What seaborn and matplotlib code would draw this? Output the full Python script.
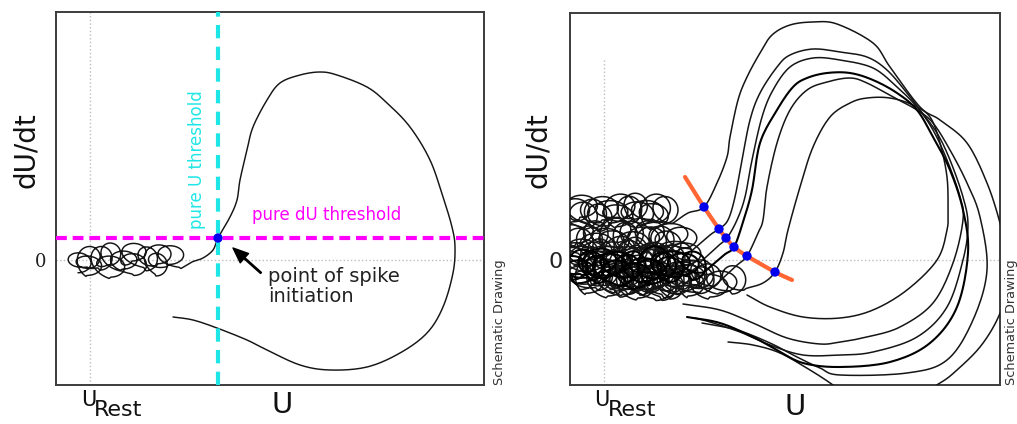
import numpy as np
import pandas as pd
import matplotlib
matplotlib.use("Agg")
import matplotlib.pyplot as plt
import seaborn as sns

# ---------------- data (schematic units: U, dU/dt) ----------------
# Left panel
L_REST = 34
L_U_THRESH = 162
L_DU_THRESH = 22
L_loop_u = [22, 33, 31, 44, 55, 53, 66, 78, 76, 90, 102, 100, 113, 125]
L_loop_v = [-3, 3, -6, 2, -7, 6, 0, -5, 8, 1, 6, -5, 5, 2]
L_path_u = [136, 147, 157, 162, 174, 181, 184, 191, 197, 211, 224, 244, 264, 281, 311,
            331, 354, 374, 387, 396, 399, 397, 387, 371, 344, 311, 274, 244, 211, 191,
            161, 137, 117]
L_path_v = [-2, 2, 10, 22, 43, 60, 80, 110, 133, 160, 177, 185, 188, 185, 173,
            157, 133, 100, 63, 33, 13, -13, -47, -73, -93, -107, -110, -105, -90, -80,
            -68, -60, -57]

# Right panel
R_REST = 34
R1_loop_u = [4, 14, 10, 22, 32, 28, 40, 50, 46, 58, 68, 64, 76, 86, 82, 94, 104]
R1_loop_v = [50, 44, 54, 46, 52, 42, 48, 54, 44, 50, 46, 54, 48, 52, 44, 50, 50]
R1_u = [118, 134, 147, 157, 160, 168, 177, 190, 202, 220, 243, 267, 303, 320, 350, 370,
        397, 417, 430, 438, 435, 427, 410, 387, 370, 340, 300, 275, 263, 240, 210, 183, 158]
R1_v = [47, 53, 77, 103, 123, 160, 183, 207, 225, 235, 238, 236, 217, 193, 153, 140,
        117, 77, 37, 0, -35, -60, -87, -110, -123, -138, -142, -135, -125, -110, -93, -85, -82]

R2_loop_u = [0, 10, 6, 18, 28, 24, 36, 46, 42, 54, 64, 60, 72, 82, 78, 90, 100, 96, 110, 122]
R2_loop_v = [24, 18, 28, 20, 14, 26, 20, 30, 18, 24, 16, 26, 22, 18, 28, 20, 26, 16, 22, 22]
R2_u = [140, 149, 158, 165, 172, 180, 190, 207, 220, 243, 270, 297, 317, 337, 350, 367,
        380, 393, 398, 393, 377, 347, 303, 270, 233, 200, 170, 140, 125]
R2_v = [25, 31, 40, 63, 100, 140, 167, 193, 205, 211, 208, 203, 190, 167, 150, 127,
        100, 63, 35, 0, -47, -77, -92, -95, -95, -85, -72, -62, -58]

R3_loop_u = [4, 14, 10, 22, 32, 28, 40, 50, 46, 58, 68, 64, 76, 86, 82, 94, 104, 100, 114, 130]
R3_loop_v = [6, 0, 10, 4, -4, 8, 2, 12, -2, 6, 0, 10, 4, -4, 6, 0, 8, 2, 6, 10]
R3_u = [148, 157, 167, 175, 182, 192, 203, 220, 243, 270, 303, 327, 347, 363, 377, 390,
        393, 383, 363, 330, 297, 270, 250, 217, 183, 150, 113]
R3_v = [14, 22, 40, 63, 100, 143, 170, 193, 202, 200, 192, 173, 153, 130, 100, 63,
        40, -3, -43, -67, -77, -82, -84, -78, -63, -50, -44]

R4_loop_u = [2, 12, 8, 20, 30, 26, 38, 48, 44, 56, 66, 62, 74, 84, 80, 92, 102, 98, 112,
             122, 136]
R4_loop_v = [-8, -2, -12, -6, 0, -10, -4, -14, -2, -8, -16, -4, -10, 0, -12, -6, -2, -10,
             -4, -6, 2]
R4_u = [154, 164, 173, 182, 190, 207, 223, 237, 257, 280, 303, 327, 347, 363, 380, 393,
        398, 387, 360, 320, 270, 233, 207, 183, 150, 117]
R4_v = [5, 13, 38, 70, 117, 150, 173, 182, 187, 187, 180, 167, 150, 123, 90, 50,
        7, -47, -83, -102, -107, -103, -90, -77, -63, -57]

R5_loop_u = [10, 20, 16, 28, 38, 34, 46, 56, 52, 64, 74, 70, 82, 92, 88, 100, 110, 106,
             118, 130, 146]
R5_loop_v = [-18, -12, -22, -16, -24, -12, -20, -14, -24, -18, -12, -22, -16, -26, -14,
             -20, -12, -22, -16, -14, -12]
R5_u = [166, 177, 188, 193, 197, 207, 220, 237, 257, 280, 297, 323, 347, 363, 380, 397,
        410, 417, 403, 377, 337, 270, 250, 227, 200, 167, 132]
R5_v = [-6, 4, 27, 40, 73, 117, 150, 170, 178, 182, 177, 163, 150, 137, 110, 77,
        43, -10, -60, -100, -113, -115, -108, -97, -83, -70, -63]

R6_loop_u = [40, 50, 46, 58, 68, 64, 76, 86, 82, 94, 104, 100, 112, 122, 118, 130, 140,
             136, 150, 162, 176]
R6_loop_v = [-18, -24, -14, -20, -26, -16, -22, -28, -18, -24, -16, -26, -20, -14, -24,
             -20, -26, -16, -22, -20, -16]
R6_u = [193, 205, 213, 218, 230, 243, 260, 280, 297, 320, 343, 360, 370, 377, 378, 377,
        367, 337, 303, 270, 233, 200, 177]
R6_v = [-23, -12, 7, 30, 73, 113, 143, 157, 162, 162, 155, 143, 117, 83, 50, 30,
        0, -30, -50, -58, -57, -47, -35]

R_orange_u = [115, 134, 149, 156, 164, 177, 205, 222]
R_orange_v = [83, 53, 31, 22, 13, 4, -12, -20]
R_dot_u = [134, 149, 156, 164, 177, 205]
R_dot_v = [53, 31, 22, 13, 4, -12]

# ---------------- helpers ----------------
RSCALE = [1.0, 0.86, 1.12, 0.93, 1.05, 0.9, 1.15, 0.96, 1.08, 0.88]


def catmull(u, v, n=12):
    P = np.column_stack([u, v]).astype(float)
    P = np.vstack([2 * P[0] - P[1], P, 2 * P[-1] - P[-2]])
    out = []
    t = np.linspace(0, 1, n, endpoint=False)[:, None]
    for i in range(1, len(P) - 2):
        p0, p1, p2, p3 = P[i - 1], P[i], P[i + 1], P[i + 2]
        seg = 0.5 * ((2 * p1) + (-p0 + p2) * t + (2 * p0 - 5 * p1 + 4 * p2 - p3) * t ** 2
                     + (-p0 + 3 * p1 - 3 * p2 + p3) * t ** 3)
        out.append(seg)
    out.append(P[-2][None, :])
    return np.vstack(out)


def loop_chain(cu, cv, rx, ry, n=64):
    """Full ellipse around each listed centre, sliding to the next centre at the end."""
    pts = []
    for k in range(len(cu) - 1):
        s = RSCALE[k % len(RSCALE)]
        s2 = RSCALE[(k + 3) % len(RSCALE)]
        th = np.linspace(0, 2 * np.pi, n, endpoint=False)
        f = (th / (2 * np.pi)) ** 4
        x = cu[k] + (cu[k + 1] - cu[k]) * f + rx * s * np.cos(th - np.pi / 2)
        y = cv[k] + (cv[k + 1] - cv[k]) * f + ry * s2 * np.sin(th - np.pi / 2)
        pts.append(np.column_stack([x, y]))
    pts.append(np.array([[cu[-1], cv[-1] - ry]]))
    return np.vstack(pts)


def trajectory(lu, lv, pu, pv, rx, ry):
    loops = loop_chain(lu, lv, rx, ry)
    main = catmull([loops[-1, 0]] + list(pu), [loops[-1, 1]] + list(pv))
    return np.vstack([loops, main])


def frame(name, arr):
    return pd.DataFrame({"traj": name, "U": arr[:, 0], "dUdt": arr[:, 1]})


# ---------------- figure ----------------
sns.set_style("white")
plt.rcParams["font.family"] = ["DejaVu Sans"]
fig = plt.figure(figsize=(10.17, 4.24), dpi=100)
axL = fig.add_axes([56 / 1017, 39 / 424, 428 / 1017, 373 / 424])
axR = fig.add_axes([570 / 1017, 39 / 424, 430 / 1017, 372.3 / 424])

LINE = "#151515"
CYAN = "#1FE6E6"
MAG = "#FF00FF"

for ax in (axL, axR):
    ax.set_xlim(0, 428 if ax is axL else 430)
    ax.set_ylim(-125, 248 if ax is axL else 247.3)
    for sp in ax.spines.values():
        sp.set_color("#3c3c3c")
        sp.set_linewidth(1.4)
    ax.set_xticks([])

# ---- left panel ----
axL.axvline(L_REST, color="#bdbdbd", lw=1.0, ls=":", zorder=1)
axL.axhline(0, color="#bdbdbd", lw=1.0, ls=":", zorder=1)
left_traj = trajectory(L_loop_u, L_loop_v, L_path_u, L_path_v, 13, 10.5)
sns.lineplot(data=frame("L", left_traj), x="U", y="dUdt", units="traj", estimator=None,
             sort=False, color=LINE, lw=1.05, ax=axL, legend=False, zorder=3)
axL.axvline(L_U_THRESH, color=CYAN, lw=3, ls=(0, (3.2, 2.0)), zorder=4)
axL.axhline(L_DU_THRESH, color=MAG, lw=3, ls=(0, (2.6, 1.4)), zorder=4)
sns.scatterplot(x=[L_U_THRESH], y=[L_DU_THRESH], color="#0000ee", s=45, edgecolor="none",
                ax=axL, zorder=6, legend=False)
axL.text(141, 100, "pure U threshold", rotation=90, color=CYAN, fontsize=12,
         ha="center", va="center")
axL.text(196, 45, "pure dU threshold", color=MAG, fontsize=12, ha="left", va="center")
axL.annotate("", xy=(177, 12), xytext=(205, -13),
             arrowprops=dict(facecolor="black", edgecolor="black", width=1.0,
                             headwidth=9, headlength=11, shrink=0))
axL.text(212, -7, "point of spike\ninitiation", fontsize=14, color="#222222",
         ha="left", va="top", linespacing=1.05)
axL.set_yticks([0])
axL.set_yticklabels(["0"], family="DejaVu Serif", fontsize=13, color="#222222")
axL.tick_params(axis="y", length=0, pad=7)
axL.set_xlabel("")
axL.set_ylabel("")

# ---- right panel ----
axR.plot([R_REST, R_REST], [200, -125], color="#bdbdbd", lw=1.0, ls=":", zorder=1)
axR.axhline(0, color="#bdbdbd", lw=1.0, ls=":", zorder=1)
frames = []
specs = [("T1", R1_loop_u, R1_loop_v, R1_u, R1_v),
         ("T2", R2_loop_u, R2_loop_v, R2_u, R2_v),
         ("T3", R3_loop_u, R3_loop_v, R3_u, R3_v),
         ("T5", R5_loop_u, R5_loop_v, R5_u, R5_v),
         ("T6", R6_loop_u, R6_loop_v, R6_u, R6_v)]
for name, lu, lv, pu, pv in specs:
    frames.append(frame(name, trajectory(lu, lv, pu, pv, 15.5, 12.5)))
dfR = pd.concat(frames, ignore_index=True)
sns.lineplot(data=dfR, x="U", y="dUdt", units="traj", estimator=None, sort=False,
             color=LINE, lw=1.1, ax=axR, legend=False, zorder=3)
sns.lineplot(data=frame("T4", trajectory(R4_loop_u, R4_loop_v, R4_u, R4_v, 15.5, 12.5)),
             x="U", y="dUdt", units="traj", estimator=None, sort=False,
             color="#000000", lw=1.5, ax=axR, legend=False, zorder=3)
ocurve = catmull(R_orange_u, R_orange_v)
sns.lineplot(x=ocurve[:, 0], y=ocurve[:, 1], sort=False, color="#FF6633", lw=3,
             ax=axR, zorder=4)
sns.scatterplot(x=R_dot_u, y=R_dot_v, color="#0000ee", s=45, edgecolor="none",
                ax=axR, zorder=6, legend=False)
axR.set_yticks([0])
axR.set_yticklabels(["0"], fontsize=16, color="#222222")
axR.tick_params(axis="y", length=0, pad=5)
axR.set_xlabel("")
axR.set_ylabel("")

# ---- labels (figure coords) ----
def F(px, py):
    return px / 1017, 1 - py / 424

for (xl, yl), txt, kw in [
    (F(26, 150), "dU/dt", dict(rotation=90, fontsize=20)),
    (F(538, 150), "dU/dt", dict(rotation=90, fontsize=20)),
    (F(282, 405), "U", dict(fontsize=21)),
    (F(795, 407), "U", dict(fontsize=21)),
]:
    fig.text(xl, yl, txt, ha="center", va="center", color="#111111", **kw)

for ux, rx in [(81, 94), (594, 608)]:
    fig.text(*F(ux, 400), "U", fontsize=15, ha="left", va="center", color="#111111")
    fig.text(*F(rx, 410), "Rest", fontsize=16, ha="left", va="center", color="#111111")

for sx in (499, 1012):
    fig.text(*F(sx, 385), "Schematic Drawing", rotation=90, fontsize=9.3,
             ha="center", va="bottom", color="#333333")

fig.savefig("out.png", dpi=100)
